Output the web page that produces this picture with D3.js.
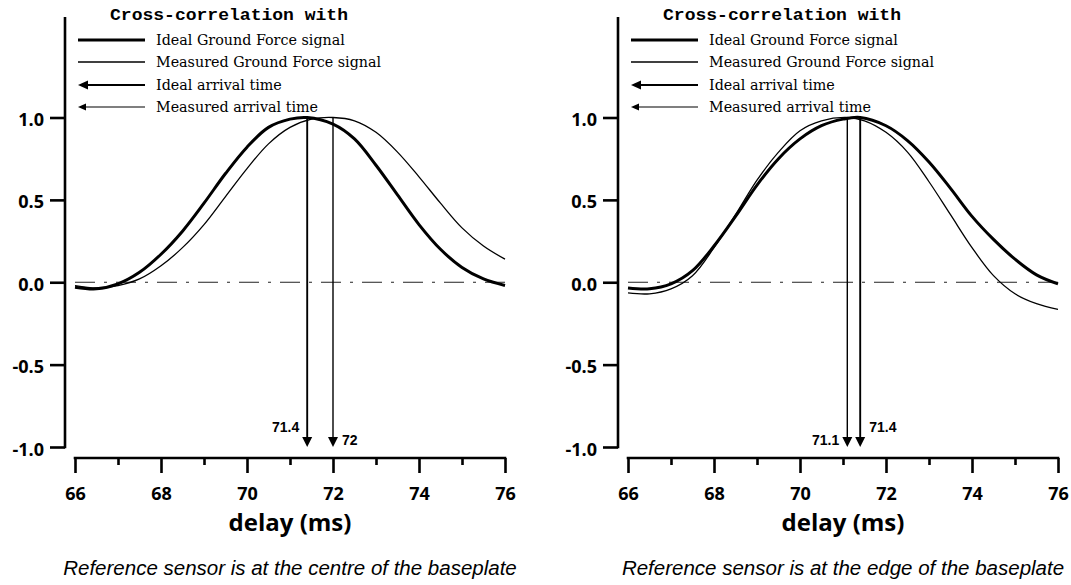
<!DOCTYPE html>
<html>
<head>
<meta charset="utf-8">
<script src="https://cdn.jsdelivr.net/npm/d3@7"></script>
<style>
  body { margin: 0; background: #fff; }
  svg { display: block; }
</style>
</head>
<body>
<svg id="chart" width="1071" height="585"></svg>
<script>
// ---- shared axis and legend content ----
const delayTicks = [66, 67, 68, 69, 70, 71, 72, 73, 74, 75, 76];
const corrTicks = [-1, -0.5, 0, 0.5, 1];
const legendTitle = "Cross-correlation with";
const legendLabels = ["Ideal Ground Force signal", "Measured Ground Force signal",
                      "Ideal arrival time", "Measured arrival time"];
const xTitle = "delay (ms)";

// ---- reference sensor at the centre of the baseplate ----
const centreIdealDelay = [66, 66.5, 67, 67.5, 68, 68.5, 69, 69.5, 70, 70.5, 71, 71.4, 72, 72.5, 73, 73.5, 74, 74.5, 75, 75.5, 76];
const centreIdealCorr  = [-0.03, -0.04, -0.01, 0.06, 0.17, 0.31, 0.48, 0.66, 0.82, 0.94, 0.99, 1.0, 0.96, 0.87, 0.71, 0.53, 0.35, 0.20, 0.09, 0.02, -0.02];
const centreMeasDelay  = [66, 66.5, 67, 67.5, 68, 68.5, 69, 69.5, 70, 70.5, 71, 71.5, 72, 72.5, 73, 73.5, 74, 74.5, 75, 75.5, 76];
const centreMeasCorr   = [-0.02, -0.035, -0.02, 0.02, 0.10, 0.21, 0.35, 0.52, 0.69, 0.84, 0.94, 0.99, 1.0, 0.98, 0.91, 0.79, 0.64, 0.48, 0.33, 0.22, 0.14];
const centreArrivals   = [71.4, 72];   // ideal, measured
const centreCaption    = "Reference sensor is at the centre of the baseplate";

// ---- reference sensor at the edge of the baseplate ----
const edgeIdealDelay = [66, 66.5, 67, 67.5, 68, 68.5, 69, 69.5, 70, 70.5, 71, 71.4, 72, 72.5, 73, 73.5, 74, 74.5, 75, 75.5, 76];
const edgeIdealCorr  = [-0.035, -0.04, -0.01, 0.07, 0.22, 0.40, 0.59, 0.75, 0.87, 0.95, 0.99, 1.0, 0.95, 0.86, 0.73, 0.57, 0.40, 0.26, 0.14, 0.045, -0.01];
const edgeMeasDelay  = [66, 66.5, 67, 67.5, 68, 68.5, 69, 69.5, 70, 70.5, 71.1, 71.5, 72, 72.5, 73, 73.5, 74, 74.5, 75, 75.5, 76];
const edgeMeasCorr   = [-0.065, -0.07, -0.04, 0.04, 0.21, 0.41, 0.62, 0.79, 0.92, 0.98, 1.0, 0.98, 0.91, 0.79, 0.61, 0.41, 0.21, 0.04, -0.07, -0.13, -0.165];
const edgeArrivals   = [71.4, 71.1];   // ideal, measured
const edgeCaption    = "Reference sensor is at the edge of the baseplate";

// ---- layout ----
const panelLeft = [75, 628];      // pixel position of delay = 66 in each panel
const plotWidth = 430;
const plotTop = 117.5, plotBottom = 447;
const xAxisY = 458;
const yAxisMax = 1.61;            // the value axis line runs up past 1.0
const boldSans = "'Open Sans', 'DejaVu Sans', sans-serif";

const panels = [
  { left: panelLeft[0], ideal: d3.zip(centreIdealDelay, centreIdealCorr),
    measured: d3.zip(centreMeasDelay, centreMeasCorr), arrivals: centreArrivals, caption: centreCaption },
  { left: panelLeft[1], ideal: d3.zip(edgeIdealDelay, edgeIdealCorr),
    measured: d3.zip(edgeMeasDelay, edgeMeasCorr), arrivals: edgeArrivals, caption: edgeCaption }
];

const svg = d3.select("#chart");

function arrowHead(tipX, tipY, len, half, dir) {
  // dir: "down" or "left"
  if (dir === "down") return `M${tipX},${tipY}L${tipX - half},${tipY - len}L${tipX + half},${tipY - len}Z`;
  return `M${tipX},${tipY}L${tipX + len},${tipY - half}L${tipX + len},${tipY + half}Z`;
}

panels.forEach(p => {
  const g = svg.append("g");
  const x = d3.scaleLinear().domain([66, 76]).range([p.left, p.left + plotWidth]);
  const y = d3.scaleLinear().domain([-1, 1]).range([plotBottom, plotTop]);
  const axisX = p.left - 10;

  // dash-dot zero reference
  g.append("line")
    .attr("x1", x(66)).attr("x2", x(76)).attr("y1", y(0)).attr("y2", y(0))
    .attr("stroke", "#222").attr("stroke-width", 1)
    .attr("stroke-dasharray", "20,9,3,9");

  // correlation curves
  const line = d3.line().x(d => x(d[0])).y(d => y(d[1])).curve(d3.curveCatmullRom.alpha(0.5));
  g.append("path").datum(p.measured).attr("d", line)
    .attr("fill", "none").attr("stroke", "#000").attr("stroke-width", 1.3);
  g.append("path").datum(p.ideal).attr("d", line)
    .attr("fill", "none").attr("stroke", "#000").attr("stroke-width", 3);

  // arrival-time arrows
  const [idealT, measT] = p.arrivals;
  const arrows = [
    { t: idealT, w: 1.9, labelY: 432 },
    { t: measT,  w: 1.4, labelY: 445 }
  ];
  const lowT = Math.min(idealT, measT);
  arrows.forEach(a => {
    const tip = y(-1);
    g.append("line").attr("x1", x(a.t)).attr("x2", x(a.t))
      .attr("y1", y(1)).attr("y2", tip - 6)
      .attr("stroke", "#000").attr("stroke-width", a.w);
    g.append("path").attr("d", arrowHead(x(a.t), tip, 10, 5, "down")).attr("fill", "#000");
    const onLeft = a.t === lowT;
    g.append("text")
      .attr("x", onLeft ? x(a.t) - 8 : x(a.t) + 9)
      .attr("y", a.labelY)
      .attr("text-anchor", onLeft ? "end" : "start")
      .attr("font-family", "'Liberation Sans', Arial, sans-serif")
      .attr("font-weight", "bold").attr("font-size", 14)
      .text(a.t);
  });

  // value axis
  const yAxis = d3.axisLeft(y).tickValues(corrTicks).tickFormat(d => d.toFixed(1))
    .tickSize(15).tickPadding(6).tickSizeOuter(0);
  const gy = g.append("g").attr("transform", `translate(${axisX},0)`).call(yAxis);
  gy.select(".domain").remove();
  gy.append("line").attr("x1", 0).attr("x2", 0)
    .attr("y1", y(-1) + 1.2).attr("y2", y(yAxisMax))
    .attr("stroke", "#000").attr("stroke-width", 2.6);
  gy.selectAll(".tick line").attr("stroke-width", 2.6);
  gy.selectAll(".tick text")
    .attr("font-family", boldSans).attr("font-weight", "bold").attr("font-size", 18)
    .attr("dy", "0.45em").attr("fill", "#000");

  // delay axis
  const xAxis = d3.axisBottom(x).tickValues(delayTicks)
    .tickFormat(d => d % 2 === 0 ? d : "")
    .tickSize(15).tickPadding(14).tickSizeOuter(0);
  const gx = g.append("g").attr("transform", `translate(0,${xAxisY})`).call(xAxis);
  gx.select(".domain").attr("stroke-width", 2.6)
    .attr("d", `M${x(66) - 1.3},0H${x(76) + 1.3}`);
  gx.selectAll(".tick line").attr("stroke-width", 2.6)
    .attr("y2", d => d % 2 === 0 ? 15 : 7);
  gx.selectAll(".tick text")
    .attr("font-family", boldSans).attr("font-weight", "bold").attr("font-size", 18)
    .attr("fill", "#000");

  g.append("text")
    .attr("x", (x(66) + x(76)) / 2).attr("y", 531)
    .attr("text-anchor", "middle")
    .attr("font-family", boldSans).attr("font-weight", "bold").attr("font-size", 24)
    .text(xTitle);

  g.append("text")
    .attr("x", (x(66) + x(76)) / 2).attr("y", 575)
    .attr("text-anchor", "middle")
    .attr("font-family", "'Liberation Sans', Arial, sans-serif")
    .attr("font-style", "italic").attr("font-size", 20.5)
    .text(p.caption);

  // legend
  const lg = g.append("g").attr("transform", `translate(${axisX},0)`);
  lg.append("text").attr("x", 45).attr("y", 20)
    .attr("font-family", "'Liberation Mono', 'Courier New', monospace")
    .attr("font-weight", "bold").attr("font-size", 17)
    .attr("textLength", 238).attr("lengthAdjust", "spacingAndGlyphs")
    .text(legendTitle);
  const rowY = [40, 62, 85, 107];
  legendLabels.forEach((lab, i) => {
    const ry = rowY[i];
    if (i === 0 || i === 1) {
      lg.append("line").attr("x1", 13).attr("x2", 80).attr("y1", ry).attr("y2", ry)
        .attr("stroke", "#000").attr("stroke-width", i === 0 ? 3 : 1.5);
    } else {
      const bold = i === 2;
      lg.append("line").attr("x1", 20).attr("x2", 80).attr("y1", ry).attr("y2", ry)
        .attr("stroke", "#000").attr("stroke-width", bold ? 2 : 1.2);
      lg.append("path").attr("d", arrowHead(13, ry, bold ? 10 : 8, bold ? 4.5 : 3.5, "left"))
        .attr("fill", "#000");
    }
    lg.append("text").attr("x", 91).attr("y", ry + 5)
      .attr("font-family", "'DejaVu Serif', 'Liberation Serif', serif")
      .attr("font-size", 14.3)
      .text(lab);
  });
});
</script>
</body>
</html>
